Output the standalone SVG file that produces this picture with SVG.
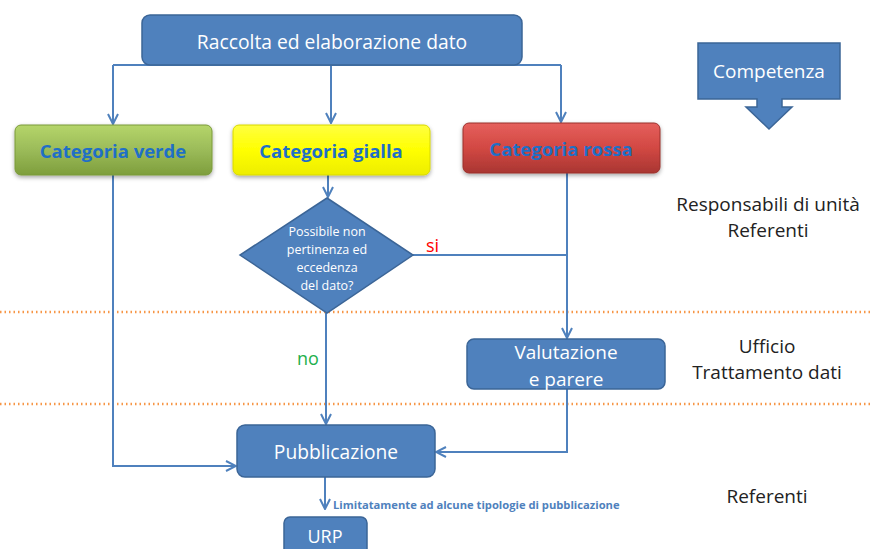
<svg xmlns="http://www.w3.org/2000/svg" width="872" height="549" viewBox="0 0 872 549">
  <style>
    .box { fill: #4F81BD; stroke: #3B6597; stroke-width: 1.5; }
    .wt { fill: #FFFFFF; font-family: "Open Sans", "Liberation Sans", sans-serif; text-anchor: middle; }
    .cat { fill: #1F6FC6; font-family: "Open Sans", "Liberation Sans", sans-serif; font-weight: bold; font-size: 18.5px; text-anchor: middle; }
    .lbl { fill: #222222; font-family: "Open Sans", "Liberation Sans", sans-serif; font-size: 19px; text-anchor: middle; }
    .wire { fill: none; stroke: #4F81BD; stroke-width: 2; }
    .sep { stroke: #F79646; stroke-width: 2.5; stroke-dasharray: 1.5 3; }
  </style>
  <defs>
    <marker id="arr" viewBox="0 0 12 12" refX="11" refY="6" markerWidth="12" markerHeight="12" markerUnits="userSpaceOnUse" orient="auto">
      <path d="M1,1 L11,6 L1,11" fill="none" stroke="#4F81BD" stroke-width="2"/>
    </marker>
    <linearGradient id="gGreen" x1="0" y1="0" x2="0" y2="1">
      <stop offset="0" stop-color="#B5D56A"/>
      <stop offset="0.5" stop-color="#9BBB59"/>
      <stop offset="1" stop-color="#7E9E3C"/>
    </linearGradient>
    <linearGradient id="gYellow" x1="0" y1="0" x2="0" y2="1">
      <stop offset="0" stop-color="#FFFF40"/>
      <stop offset="0.5" stop-color="#FFFF00"/>
      <stop offset="1" stop-color="#EDED00"/>
    </linearGradient>
    <linearGradient id="gRed" x1="0" y1="0" x2="0" y2="1">
      <stop offset="0" stop-color="#E5605C"/>
      <stop offset="0.5" stop-color="#D24843"/>
      <stop offset="1" stop-color="#A93632"/>
    </linearGradient>
    <filter id="shadow" x="-10%" y="-20%" width="120%" height="150%">
      <feDropShadow dx="0" dy="2" stdDeviation="2" flood-color="#000" flood-opacity="0.35"/>
    </filter>
  </defs>

  <!-- swimlane separators -->
  <line class="sep" x1="0" y1="312" x2="872" y2="312"/>
  <line class="sep" x1="0" y1="404" x2="872" y2="404"/>

  <!-- connectors -->
  <g id="connectors">
    <path class="wire" d="M113,65 L561,65"/>
    <path class="wire" d="M113,65 L113,124" marker-end="url(#arr)"/>
    <path class="wire" d="M331,65 L331,123" marker-end="url(#arr)"/>
    <path class="wire" d="M561,65 L561,122" marker-end="url(#arr)"/>
    <path class="wire" d="M113,175 L113,466 L236,466" marker-end="url(#arr)"/>
    <path class="wire" d="M328,175 L328,197" marker-end="url(#arr)"/>
    <path class="wire" d="M413,255 L567,255"/>
    <path class="wire" d="M567,173 L567,338" marker-end="url(#arr)"/>
    <path class="wire" d="M567,389 L567,452 L436,452" marker-end="url(#arr)"/>
    <path class="wire" d="M326,313 L326,424" marker-end="url(#arr)"/>
    <path class="wire" d="M325,477 L325,509" marker-end="url(#arr)"/>
    <text x="426" y="252" fill="#FF0000" font-family="'Open Sans', 'Liberation Sans', sans-serif" font-size="18">si</text>
    <text x="297" y="365" fill="#22B04B" font-family="'Open Sans', 'Liberation Sans', sans-serif" font-size="18">no</text>
    <text x="333" y="509" fill="#4F81BD" font-family="'Open Sans', 'Liberation Sans', sans-serif" font-size="11.2" font-weight="bold">Limitatamente ad alcune tipologie di pubblicazione</text>
  </g>

  <g id="raccolta">
    <rect class="box" x="142" y="15" width="380" height="50" rx="8"/>
    <text class="wt" x="332" y="49" font-size="19.3">Raccolta ed elaborazione dato</text>
  </g>

  <g id="cat-verde">
    <rect x="15" y="125" width="197" height="50" rx="6" fill="url(#gGreen)" stroke="#7A9A3A" stroke-width="1" filter="url(#shadow)"/>
    <text class="cat" x="113" y="158">Categoria verde</text>
  </g>

  <g id="cat-gialla">
    <rect x="233" y="125" width="197" height="50" rx="6" fill="url(#gYellow)" stroke="#D8D800" stroke-width="1" filter="url(#shadow)"/>
    <text class="cat" x="331" y="158">Categoria gialla</text>
  </g>

  <g id="cat-rossa">
    <rect x="463" y="123" width="197" height="50" rx="6" fill="url(#gRed)" stroke="#9A302C" stroke-width="1" filter="url(#shadow)"/>
    <text class="cat" x="561" y="156">Categoria rossa</text>
  </g>

  <g id="decisione">
    <path class="box" d="M327,198 L413,255 L327,313 L240,255 Z"/>
    <text class="wt" x="327" y="236" font-size="12.5">Possibile non</text>
    <text class="wt" x="327" y="254" font-size="12.5">pertinenza ed</text>
    <text class="wt" x="327" y="272" font-size="12.5">eccedenza</text>
    <text class="wt" x="327" y="290" font-size="12.5">del dato?</text>
  </g>

  <g id="valutazione">
    <rect class="box" x="467" y="339" width="198" height="50" rx="7"/>
    <text class="wt" x="566" y="359" font-size="19">Valutazione</text>
    <text class="wt" x="566" y="386" font-size="19">e parere</text>
  </g>

  <g id="pubblicazione">
    <rect class="box" x="237" y="425" width="198" height="52" rx="8"/>
    <text class="wt" x="336" y="459" font-size="19.2">Pubblicazione</text>
  </g>

  <g id="urp">
    <rect class="box" x="284" y="517" width="83" height="45" rx="6"/>
    <text class="wt" x="325" y="543" font-size="18">URP</text>
  </g>

  <g id="competenza">
    <path class="box" d="M698,43 L840,43 L840,99 L782,99 L782,107 L792,107 L769,129 L746,107 L757,107 L757,99 L698,99 Z"/>
    <text class="wt" x="769" y="78" font-size="19">Competenza</text>
  </g>

  <!-- lane owners -->
  <g id="lane-labels">
    <text class="lbl" x="768" y="211">Responsabili di unità</text>
    <text class="lbl" x="768" y="237">Referenti</text>
    <text class="lbl" x="767" y="353">Ufficio</text>
    <text class="lbl" x="767" y="379">Trattamento dati</text>
    <text class="lbl" x="767" y="503">Referenti</text>
  </g>
</svg>
